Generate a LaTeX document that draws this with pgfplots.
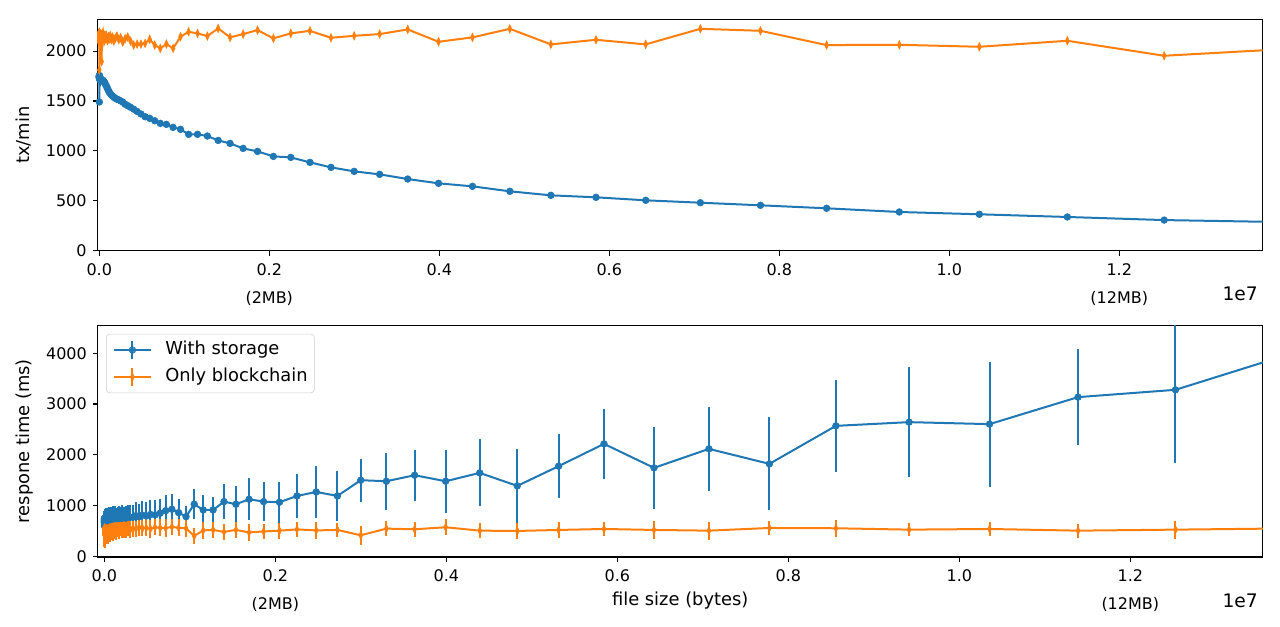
\documentclass[border=0pt]{standalone}
\usepackage{fontspec}
\setmainfont{DejaVu Sans}
\usepackage{pgfplots}
\usepackage{pgfplotstable}
\pgfplotsset{compat=1.18}
\definecolor{c0}{HTML}{1F77B4}
\definecolor{c1}{HTML}{FF7F0E}
\pgfplotstableread{
x tb to bb be ob oe
1000 1490 1810 600 170 420 200
1100 1748 2140 680 190 520 180
1210 1756 2180 720 160 470 230
1331 1741 2100 660 200 550 160
1464 1752 2160 710 180 440 250
1611 1738 2120 750 150 510 190
1772 1750 2190 670 210 560 170
1949 1735 2090 700 170 460 220
2144 1746 2150 740 190 500 240
2358 1732 2170 640 180 540 180
2594 1744 2110 690 210 430 260
2853 1729 2140 730 160 520 200
3138 1740 2180 680 200 480 230
3452 1726 2080 710 180 550 170
3797 1737 2130 660 220 450 240
4177 1724 2160 740 170 510 190
4595 1734 2100 690 200 470 260
5054 1721 2150 720 180 540 180
5560 1731 2120 680 210 500 210
6116 1719 2175 710 180 460 230
6728 1728 2095 740 200 530 190
7400 1716 2145 670 190 490 250
8140 1726 2165 720 210 520 170
8954 1714 2110 690 170 450 220
9850 1723 2135 730 200 510 200
10835 1712 2170 680 210 480 240
11918 1721 2090 720 180 540 180
13110 1710 2150 700 200 500 210
14421 1719 2125 740 190 470 230
15863 1709 2160 690 220 530 190
17449 1717 2105 720 180 490 200
19194 1707 2140 740 210 520 220
21114 1715 2170 700 200 460 180
23225 1706 2115 730 220 510 230
25548 1713 2150 710 190 540 170
28102 1705 1894 750 200 480 210
30913 1711 2130 710 220 500 190
34004 1704 2160 740 190 530 200
37404 1709 2100 720 210 470 220
41145 1703 2145 750 200 510 180
45259 1705 2120 730 220 490 200
49785 1700 2165 720 200 530 190
54764 1695 2135 760 210 500 210
60240 1688 2110 740 200 520 170
66264 1679 2150 720 230 480 200
72890 1667 2125 760 210 540 180
80180 1655 2160 750 220 510 190
88197 1640 2130 730 200 530 170
97017 1625 2105 770 230 500 200
106719 1607 2145 750 210 540 180
117391 1590 2120 740 230 520 170
129130 1575 2155 770 220 550 180
142043 1562 2115 750 210 510 190
156247 1549 2140 740 240 540 160
171872 1538 2100 770 220 530 180
189059 1526 2130 750 230 560 170
207965 1518 2150 780 230 520 160
228762 1511 2115 760 220 550 180
251638 1501 2135 750 240 540 170
276801 1488 2090 780 230 560 160
304482 1467 2125 770 240 530 170
334930 1453 2140 770 250 550 165
368423 1437 2100 800 260 540 160
405265 1418 2060 780 260 570 170
445792 1395 2070 810 280 550 160
490371 1370 2070 795 270 560 165
539408 1342 2077 825 280 540 170
593349 1326 2117 815 290 570 160
652683 1302 2060 848 290 560 165
717952 1276 2027 899 300 555 170
789747 1266 2070 927 300 580 160
868722 1236 2027 860 260 560 165
955594 1216 2143 781 200 552 170
1051153 1166 2193 1026 300 400 150
1156269 1166 2177 913 300 510 160
1271895 1149 2150 913 250 520 150
1399085 1105 2227 1077 350 480 160
1538993 1075 2137 1026 360 520 150
1692893 1025 2170 1124 410 470 160
1862182 995 2210 1077 380 490 150
2048400 945 2127 1065 400 505 155
2253240 935 2177 1189 434 530 150
2478564 885 2203 1268 510 510 160
2726421 835 2133 1189 495 519 140
2999063 795 2153 1499 420 414 190
3298969 765 2170 1479 565 545 145
3628866 718 2217 1597 500 532 150
3991753 675 2093 1479 620 572 155
4390928 645 2137 1643 660 505 145
4830021 595 2223 1387 730 499 160
5313023 555 2067 1775 630 519 160
5844325 535 2113 2215 690 538 140
6428757 505 2067 1742 815 519 170
7071633 481 2223 2116 835 505 180
7778796 455 2203 1821 915 558 140
8556676 425 2060 2570 905 552 170
9412344 388 2063 2643 1080 525 130
10353578 365 2043 2604 1230 538 140
11388936 338 2103 3136 945 505 140
12527829 307 1953 3280 1434 525 180
13780612 289 2012 3940 1400 548 150
}\data

\pgfplotsset{
  common/.style={
    scale only axis,
    anchor=south west,
    axis line style={line width=0.8pt},
    tick align=outside,
    tick pos=left,
    major tick length=3.65pt,
    every tick/.style={black, line width=0.8pt},
    tick label style={font=\fontsize{12}{14.4}\selectfont},
    xticklabel style={align=center, font=\fontsize{12}{21}\selectfont, yshift=-2.25pt},
    yticklabel style={xshift=-1pt},
    /pgf/number format/assume math mode=true,
    /pgf/number format/1000 sep={},
    scaled x ticks=false, scaled y ticks=false,
    xtick={0,2000000,4000000,6000000,8000000,10000000,12000000},
    xticklabels={0.0,{0.2\\(2MB)},0.4,0.6,0.8,1.0,{1.2\\(12MB)}},
    every axis y label/.style={at={(axis description cs:-0.0631,0.5)},rotate=90,anchor=center,
      font=\fontsize{13.4}{16}\selectfont},
    legend image code/.code={
      \draw[##1, mark=none] (13.875pt,-6.75pt) -- (13.875pt,6.75pt);
      \draw[mark repeat=2, mark phase=2, ##1] plot coordinates {(0pt,0pt) (13.875pt,0pt) (27.75pt,0pt)};
    },
  },
  blueline/.style={color=c0, line width=1.5pt, mark=*, mark size=2.5pt,
    mark options={solid, fill=c0, draw=c0, line width=0.5pt}},
  orangeline/.style={color=c1, line width=1.5pt, mark=diamond*, mark size=3.2pt,
    mark options={solid, fill=c1, draw=c1, line width=0.4pt, xscale=0.6}},
}

\begin{document}
\begin{tikzpicture}
\path[use as bounding box] (0,0) rectangle (960pt,470.25pt);

\begin{axis}[common, name=top,
  at={(73.1pt,282.2pt)}, width=873.9pt, height=173.55pt,
  xmin=-21000, xmax=13687000, ymin=0, ymax=2318,
  ytick={0,500,1000,1500,2000},
  ylabel={tx/min},
]
\addplot[blueline] table[x=x, y=tb]{\data};
\addplot[orangeline] table[x=x, y=to]{\data};
\end{axis}
\node[anchor=east, font=\fontsize{14}{16}\selectfont, inner sep=0pt] at ([xshift=-3.5pt, yshift=-32.3pt]top.south east) {1e7};

\begin{axis}[common, name=bot,
  at={(73.3pt,52.5pt)}, width=873.75pt, height=173.8pt,
  xmin=-77200, xmax=13549000, ymin=-14, ymax=4552,
  ytick={0,1000,2000,3000,4000},
  ylabel={respone time (ms)},
  xlabel={file size (bytes)},
  every axis x label/.style={at={(axis description cs:0.5,0)}, anchor=center, yshift=-33pt,
    font=\fontsize{13.4}{16}\selectfont},
  legend cell align=left,
  legend style={at={(axis description cs:0,1)}, anchor=north west, xshift=6.2pt, yshift=-6.5pt,
    draw=black!20, rounded corners=2.5pt, fill=white, fill opacity=0.8, text opacity=1,
    font=\fontsize{13.4}{16}\selectfont, inner xsep=5pt, inner ysep=1.8pt,
    nodes={inner xsep=0pt, inner ysep=2.6pt, text height=11pt, text depth=4pt},
    /tikz/every odd column/.append style={column sep=10pt}},
]
\addplot[blueline, error bars/.cd, y dir=both, y explicit, error mark=none,
  error bar style={line width=1.5pt, color=c0}] table[x=x, y=bb, y error=be]{\data};
\addlegendentry{With storage}
\addplot[orangeline, error bars/.cd, y dir=both, y explicit, error mark=none,
  error bar style={line width=1.5pt, color=c1}] table[x=x, y=ob, y error=oe]{\data};
\addlegendentry{Only blockchain}
\end{axis}
\node[anchor=east, font=\fontsize{14}{16}\selectfont, inner sep=0pt] at ([xshift=-3.5pt, yshift=-33pt]bot.south east) {1e7};
\end{tikzpicture}
\end{document}
